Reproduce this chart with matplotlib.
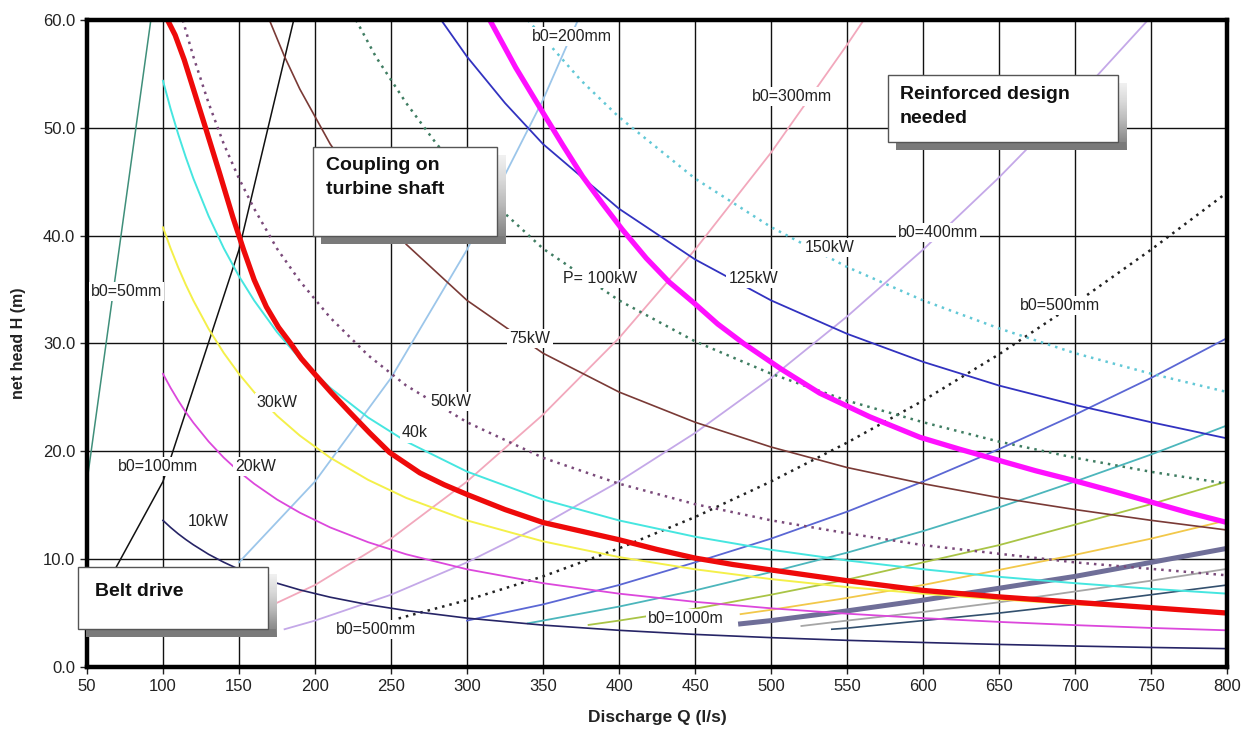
import matplotlib.pyplot as plt
import numpy as np
from matplotlib.patches import Rectangle

plt.rcParams['font.family'] = ['Liberation Sans', 'DejaVu Sans']

# constant power curves, H (m) against Q (l/s)
Q_LOW = [100, 105, 110, 115, 120, 130, 140, 150, 160, 175, 190, 210, 235, 260, 300, 350, 400, 450,
         500, 550, 600, 650, 700, 750, 800]
H_10KW = [13.59, 12.94, 12.35, 11.82, 11.33, 10.45, 9.71, 9.06, 8.49, 7.77, 7.15, 6.47, 5.78, 5.23, 4.53, 3.88,
          3.40, 3.02, 2.72, 2.47, 2.27, 2.09, 1.94, 1.81, 1.70]
H_20KW = [27.18, 25.89, 24.71, 23.63, 22.65, 20.91, 19.41, 18.12, 16.99, 15.53, 14.31, 12.94, 11.57, 10.45, 9.06,
          7.77, 6.80, 6.04, 5.44, 4.94, 4.53, 4.18, 3.88, 3.62, 3.40]
H_30KW = [40.77, 38.83, 37.06, 35.45, 33.98, 31.36, 29.12, 27.18, 25.48, 23.30, 21.46, 19.41, 17.35, 15.68, 13.59,
          11.65, 10.19, 9.06, 8.15, 7.41, 6.80, 6.27, 5.82, 5.44, 5.10]
H_40KW = [54.36, 51.77, 49.42, 47.27, 45.30, 41.82, 38.83, 36.24, 33.98, 31.06, 28.61, 25.89, 23.13, 20.91, 18.12,
          15.53, 13.59, 12.08, 10.87, 9.88, 9.06, 8.36, 7.77, 7.25, 6.80]

Q_50KW = [113, 120, 130, 140, 150, 160, 175, 190, 210, 235, 260, 300, 350, 400, 450, 500, 550, 600, 650, 700, 750, 800]
H_50KW = [60.0, 56.6, 52.3, 48.5, 45.3, 42.5, 38.8, 35.8, 32.4, 28.9, 26.1, 22.7, 19.4, 17.0, 15.1, 13.6, 12.4, 11.3,
          10.5, 9.7, 9.1, 8.5]
Q_75KW = [170, 180, 190, 210, 235, 260, 300, 350, 400, 450, 500, 550, 600, 650, 700, 750, 800]
H_75KW = [60.0, 56.6, 53.6, 48.5, 43.4, 39.2, 34.0, 29.1, 25.5, 22.7, 20.4, 18.5, 17.0, 15.7, 14.6, 13.6, 12.7]
Q_100KW = [227, 240, 260, 280, 300, 350, 400, 450, 500, 550, 600, 650, 700, 750, 800]
H_100KW = [60.0, 56.6, 52.3, 48.5, 45.3, 38.8, 34.0, 30.2, 27.2, 24.7, 22.7, 20.9, 19.4, 18.1, 17.0]
Q_125KW = [283, 300, 325, 350, 400, 450, 500, 550, 600, 650, 700, 750, 800]
H_125KW = [60.0, 56.6, 52.3, 48.5, 42.5, 37.8, 34.0, 30.9, 28.3, 26.1, 24.3, 22.7, 21.2]
Q_150KW = [340, 375, 400, 450, 500, 550, 600, 650, 700, 750, 800]
H_150KW = [60.0, 54.4, 51.0, 45.3, 40.8, 37.1, 34.0, 31.4, 29.1, 27.2, 25.5]

# limit curves (thick red / thick magenta)
Q_RED = [103, 108, 114, 120, 128, 137, 146, 153, 160, 168, 176, 184, 191, 199, 211, 223, 236, 249, 269, 285,
         300, 325, 350, 375, 400, 425, 450, 475, 500, 550, 600, 650, 700, 750, 800]
H_RED = [60.0, 58.6, 56.3, 53.6, 50.0, 45.9, 41.7, 38.7, 35.9, 33.4, 31.5, 30.0, 28.6, 27.3, 25.4, 23.6, 21.7,
         19.9, 18.0, 16.9, 16.0, 14.6, 13.4, 12.6, 11.8, 10.9, 10.1, 9.5, 9.0, 8.0, 7.1, 6.5, 6.0, 5.5, 5.0]
Q_MAG = [315, 332, 350, 363, 376, 389, 402, 418, 433, 449, 465, 482, 507, 532, 565, 598, 624, 649, 674, 699,
         725, 750, 775, 800]
H_MAG = [60.0, 55.6, 51.4, 48.4, 45.5, 43.0, 40.6, 37.9, 35.7, 33.8, 31.8, 30.0, 27.6, 25.4, 23.2, 21.3, 20.2,
         19.2, 18.2, 17.3, 16.3, 15.3, 14.3, 13.4]

# runner width b0 lines
Q_B50 = [50, 92]
H_B50 = [17.2, 60.0]
Q_B100 = [50, 100, 150, 186]
H_B100 = [4.3, 17.2, 38.7, 60.0]
Q_B200 = [150, 200, 250, 300, 350, 373]
H_B200 = [9.7, 17.2, 26.8, 38.7, 52.6, 60.0]
Q_B300 = [150, 200, 250, 300, 350, 400, 450, 500, 550, 561]
H_B300 = [4.3, 7.6, 11.9, 17.2, 23.4, 30.5, 38.7, 47.7, 57.7, 60.0]
Q_B400 = [180, 200, 250, 300, 350, 400, 450, 500, 550, 600, 650, 700, 748]
H_B400 = [3.5, 4.3, 6.7, 9.7, 13.2, 17.2, 21.7, 26.8, 32.5, 38.7, 45.4, 52.6, 60.0]
Q_B500 = [255, 300, 350, 400, 450, 500, 550, 600, 650, 700, 750, 800]
H_B500 = [4.5, 6.2, 8.4, 11.0, 13.9, 17.2, 20.8, 24.7, 29.0, 33.7, 38.7, 44.0]
Q_B600 = [300, 350, 400, 450, 500, 550, 600, 650, 700, 750, 800]
H_B600 = [4.3, 5.8, 7.6, 9.7, 11.9, 14.4, 17.2, 20.2, 23.4, 26.8, 30.5]
Q_B700 = [340, 350, 400, 450, 500, 550, 600, 650, 700, 750, 800]
H_B700 = [4.05, 4.3, 5.6, 7.1, 8.8, 10.6, 12.6, 14.8, 17.2, 19.7, 22.4]
Q_B800 = [380, 400, 450, 500, 550, 600, 650, 700, 750, 800]
H_B800 = [3.9, 4.3, 5.4, 6.7, 8.1, 9.7, 11.3, 13.2, 15.1, 17.2]
Q_B900 = [480, 500, 550, 600, 650, 700, 750, 800]
H_B900 = [4.9, 5.3, 6.4, 7.6, 9.0, 10.4, 11.9, 13.6]
Q_B1000 = [480, 500, 550, 600, 650, 700, 750, 800]
H_B1000 = [4.0, 4.3, 5.2, 6.2, 7.3, 8.4, 9.7, 11.0]
Q_B1100 = [520, 550, 600, 650, 700, 750, 800]
H_B1100 = [3.8, 4.3, 5.1, 6.0, 7.0, 8.0, 9.1]
Q_B1200 = [540, 550, 600, 650, 700, 750, 800]
H_B1200 = [3.5, 3.6, 4.3, 5.0, 5.8, 6.7, 7.6]

DOT = (0, (1, 2))

fig = plt.figure(figsize=(12.48, 7.31), dpi=100)
ax = fig.add_axes([0.0697, 0.0876, 0.9135, 0.885])

# b0 lines
ax.plot(Q_B50, H_B50, color="#3f8f7a", lw=1.1)
ax.plot(Q_B100, H_B100, color="#111111", lw=1.1)
ax.plot(Q_B200, H_B200, color="#9cc6ea", lw=1.3)
ax.plot(Q_B300, H_B300, color="#f2a8bc", lw=1.3)
ax.plot(Q_B400, H_B400, color="#c4a8e8", lw=1.3)
ax.plot(Q_B500, H_B500, color="#222222", lw=1.8, ls=DOT)
ax.plot(Q_B600, H_B600, color="#5b67d4", lw=1.3)
ax.plot(Q_B700, H_B700, color="#4cb6bc", lw=1.3)
ax.plot(Q_B800, H_B800, color="#a9c446", lw=1.3)
ax.plot(Q_B900, H_B900, color="#f2c84a", lw=1.3)
ax.plot(Q_B1000, H_B1000, color="#6f6e98", lw=3.6)
ax.plot(Q_B1100, H_B1100, color="#a6a6a6", lw=1.3)
ax.plot(Q_B1200, H_B1200, color="#33506e", lw=1.2)

# power curves
ax.plot(Q_LOW, H_10KW, color="#262466", lw=1.2)
ax.plot(Q_LOW, H_20KW, color="#dc48dc", lw=1.3)
ax.plot(Q_LOW, H_30KW, color="#f4f04a", lw=1.4)
ax.plot(Q_LOW, H_40KW, color="#46e6e0", lw=1.4)
ax.plot(Q_50KW, H_50KW, color="#7a4a7a", lw=1.8, ls=DOT)
ax.plot(Q_75KW, H_75KW, color="#7a3a36", lw=1.2)
ax.plot(Q_100KW, H_100KW, color="#3f7d62", lw=1.8, ls=DOT)
ax.plot(Q_125KW, H_125KW, color="#3232c0", lw=1.3)
ax.plot(Q_150KW, H_150KW, color="#62c8d6", lw=1.8, ls=DOT)
ax.plot(Q_RED, H_RED, color="#ee0a0a", lw=3.8, solid_joinstyle="round")
ax.plot(Q_MAG, H_MAG, color="#ff10ff", lw=3.8, solid_joinstyle="round")

ax.set_xticks(range(50, 801, 50))
ax.set_yticks(range(0, 61, 10))
ax.set_yticklabels([f"{v:.1f}" for v in range(0, 61, 10)])
ax.tick_params(labelsize=12, colors="#222222", length=5, width=1)
ax.grid(True, color="#111111", lw=1.0)
ax.set_axisbelow(True)
for sp in ax.spines.values():
    sp.set_linewidth(3.2)
    sp.set_color("black")

ax.set_xlabel("Discharge Q (l/s)", fontsize=12.5, fontweight="bold", color="#222222", labelpad=12)
ax.set_ylabel("net head H (m)", fontsize=11.5, fontweight="bold", color="#222222", labelpad=12)

# curve labels
labels = [
    ("b0=50mm", 52.6, 34.8), ("b0=100mm", 70.4, 18.6), ("20kW", 147.4, 18.6),
    ("10kW", 116.4, 13.5), ("30kW", 161.8, 24.5), ("40k", 257, 21.7),
    ("50kW", 276, 24.6), ("75kW", 328, 30.5), ("P= 100kW", 363, 36.0),
    ("125kW", 472, 36.0), ("150kW", 522, 38.9), ("b0=400mm", 583.6, 40.3),
    ("b0=500mm", 663.8, 33.5), ("b0=200mm", 343, 58.5), ("b0=300mm", 487.5, 52.9),
    ("b0=500mm", 213.8, 3.5), ("b0=1000m", 419, 4.5),
]
for txt, q, h in labels:
    ax.text(q, h, txt, fontsize=11.5, color="#222222", ha="left", va="center", zorder=6,
            bbox=dict(fc="white", ec="none", pad=1.5))

# light at the top, darker towards the bottom
shade = np.linspace(0.12, 0.6, 64).reshape(-1, 1)


def note_box(q0, h0, q1, h1, text, tq, th):
    dq, dh = 5.3, 0.75
    ax.imshow(shade, cmap="Greys", vmin=0, vmax=1, aspect="auto", zorder=7, clip_on=False,
              extent=(q1, q1 + dq, h0 - dh, h1 - dh), interpolation="bilinear")
    ax.add_patch(Rectangle((q0 + dq, h0 - dh), q1 - q0, dh, fc="#7a7a7a", ec="none",
                           zorder=7, clip_on=False))
    ax.add_patch(Rectangle((q0, h0), q1 - q0, h1 - h0, fc="white", ec="#555555", lw=1.0,
                           zorder=8, clip_on=False))
    ax.text(tq, th, text, fontsize=14, fontweight="bold", color="#111111", ha="left", va="top",
            linespacing=1.55, zorder=9, clip_on=False)


note_box(198.7, 40.0, 319.7, 48.2, "Coupling on\nturbine shaft", 207.5, 47.3)
note_box(577, 48.7, 728.3, 54.9, "Reinforced design\nneeded", 584.9, 53.9)
note_box(44.1, 3.5, 169.1, 9.3, "Belt drive", 55.3, 7.8)

ax.set_xlim(50, 800)
ax.set_ylim(0, 60)

fig.savefig("out.png", dpi=100)
